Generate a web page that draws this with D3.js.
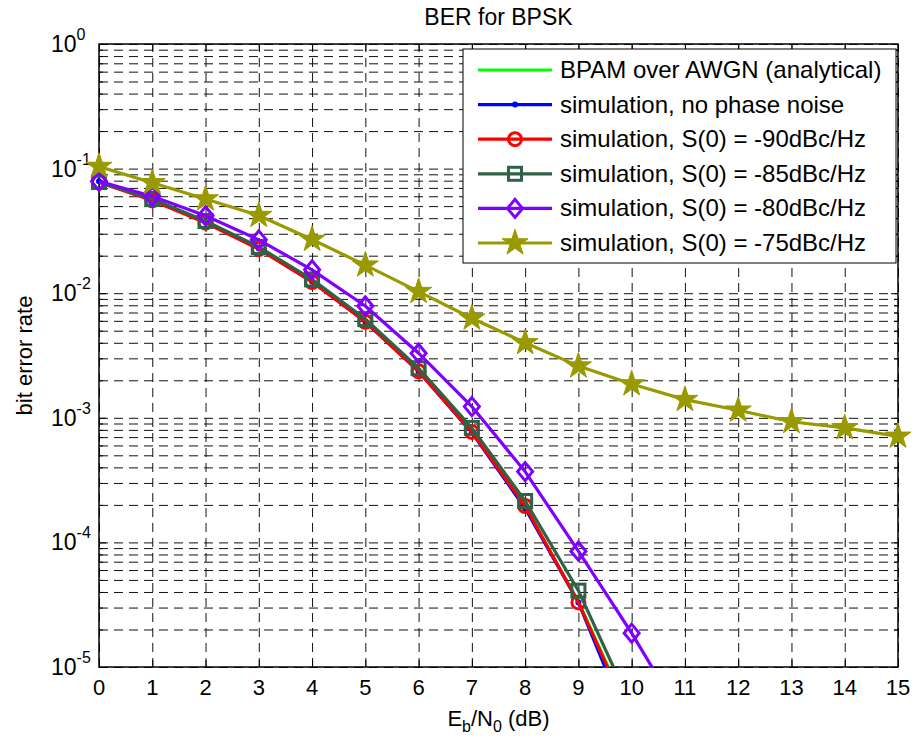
<!DOCTYPE html>
<html lang="en">
<head>
    <meta charset="UTF-8">
    <title>BER for BPSK</title>
    <script src="https://cdn.jsdelivr.net/npm/d3@7"></script>
    <style>
        body { margin: 0; background: #fff; }
        text { font-family: Arial, "Liberation Sans", sans-serif; fill: #000; }
    </style>
</head>
<body>
<script>
    // Eb/N0 points (dB)
    var ebn0 = [0, 1, 2, 3, 4, 5, 6, 7, 8, 9, 10, 11, 12, 13, 14, 15];

    // BER values per curve
    var berAnalytical = [0.0786, 0.0563, 0.0375, 0.0229, 0.0125, 0.00595, 0.00239, 0.000773, 0.000191, 3.36e-5, 3.87e-6];
    var berNoPN = [0.0790, 0.0566, 0.0373, 0.0228, 0.0124, 0.0059, 0.00236, 0.00076, 0.000188, 3.3e-5, 3.0e-6];
    var ber90 = [0.0775, 0.0555, 0.0368, 0.0226, 0.0123, 0.0059, 0.00236, 0.00077, 0.000196, 3.3e-5, 3.7e-6];
    var ber85 = [0.0780, 0.0570, 0.0380, 0.0235, 0.0129, 0.0062, 0.0025, 0.00083, 0.000215, 4.1e-5, 4.8e-6];
    var ber80 = [0.0790, 0.0600, 0.0418, 0.0268, 0.0154, 0.0079, 0.0033, 0.00123, 0.00037, 8.5e-5, 1.87e-5, 3.6e-6];
    var ber75 = [0.104, 0.077, 0.057, 0.042, 0.027, 0.0168, 0.0103, 0.0063, 0.0040, 0.0026, 0.00187, 0.0014, 0.00115, 0.00093, 0.00083, 0.00071];

    var legendLabels = ["BPAM over AWGN (analytical)", "simulation, no phase noise",
        "simulation, S(0) = -90dBc/Hz", "simulation, S(0) = -85dBc/Hz",
        "simulation, S(0) = -80dBc/Hz", "simulation, S(0) = -75dBc/Hz"];
    var xTicks = [0, 1, 2, 3, 4, 5, 6, 7, 8, 9, 10, 11, 12, 13, 14, 15];
    var yDecades = [1e-5, 1e-4, 1e-3, 1e-2, 1e-1, 1];

    var series = [
        {vals: berAnalytical, color: "#00ff00", marker: "none"},
        {vals: berNoPN, color: "#0000ff", marker: "dot"},
        {vals: ber90, color: "#ff0000", marker: "circle"},
        {vals: ber85, color: "#2f6246", marker: "square"},
        {vals: ber80, color: "#8000ff", marker: "diamond"},
        {vals: ber75, color: "#999900", marker: "star"}
    ];

    var width = 915, height = 744;
    // plot box (window.top is reserved, so use p* names)
    var pLeft = 99, pRight = 898, pTop = 44, pBottom = 667;

    var svg = d3.select("body").append("svg")
            .attr("width", width)
            .attr("height", height);

    var x = d3.scaleLinear().domain([0, 15]).range([pLeft, pRight]);
    var y = d3.scaleLog().domain([1e-5, 1]).range([pBottom, pTop]);

    // minor values for log grid
    var yMinor = [];
    yDecades.slice(0, 5).forEach(function (d) {
        for (var k = 2; k <= 9; k++) yMinor.push(d * k);
    });

    svg.append("rect").attr("x", pLeft).attr("y", pTop)
            .attr("width", pRight - pLeft).attr("height", pBottom - pTop)
            .style("fill", "#fff");

    // grid lines
    var grid = svg.append("g").attr("class", "grid");
    grid.append("g").attr("transform", "translate(0," + pBottom + ")")
            .call(d3.axisBottom(x).tickValues(xTicks).tickSize(-(pBottom - pTop)).tickFormat(""));
    grid.append("g").attr("transform", "translate(" + pLeft + ",0)")
            .call(d3.axisLeft(y).tickValues(yDecades.concat(yMinor)).tickSize(-(pRight - pLeft)).tickFormat(""));
    grid.selectAll(".domain").remove();
    grid.selectAll("line")
            .style("stroke", "#111")
            .style("stroke-width", 1)
            .style("stroke-dasharray", "9,6");

    // axes (ticks inside, box)
    function styleAxis(g) {
        g.selectAll(".domain").remove();
        g.selectAll("line").style("stroke", "#000");
    }
    svg.append("g").attr("transform", "translate(0," + pBottom + ")")
            .call(d3.axisBottom(x).tickValues(xTicks).tickSize(-7).tickFormat("")).call(styleAxis);
    svg.append("g").attr("transform", "translate(0," + pTop + ")")
            .call(d3.axisTop(x).tickValues(xTicks).tickSize(-7).tickFormat("")).call(styleAxis);
    svg.append("g").attr("transform", "translate(" + pLeft + ",0)")
            .call(d3.axisLeft(y).tickValues(yDecades).tickSize(-7).tickFormat("")).call(styleAxis);
    svg.append("g").attr("transform", "translate(" + pLeft + ",0)")
            .call(d3.axisLeft(y).tickValues(yMinor).tickSize(-4).tickFormat("")).call(styleAxis);
    svg.append("g").attr("transform", "translate(" + pRight + ",0)")
            .call(d3.axisRight(y).tickValues(yDecades).tickSize(-7).tickFormat("")).call(styleAxis);
    svg.append("g").attr("transform", "translate(" + pRight + ",0)")
            .call(d3.axisRight(y).tickValues(yMinor).tickSize(-4).tickFormat("")).call(styleAxis);

    svg.append("rect").attr("x", pLeft).attr("y", pTop)
            .attr("width", pRight - pLeft).attr("height", pBottom - pTop)
            .style("fill", "none").style("stroke", "#000").style("stroke-width", 1.5);

    // tick labels
    svg.append("g").selectAll("text").data(xTicks).enter().append("text")
            .attr("x", function (d) { return x(d); })
            .attr("y", 695)
            .attr("text-anchor", "middle")
            .style("font-size", "22px")
            .text(function (d) { return d; });

    var yl = svg.append("g").selectAll("text").data(yDecades).enter().append("text")
            .attr("x", 51)
            .attr("y", function (d) { return y(d) + 8; })
            .style("font-size", "23px");
    yl.append("tspan").text("10");
    yl.append("tspan").attr("dy", -12).style("font-size", "16px").text(function (d) {
        var e = Math.round(Math.log10(d));
        return e === 0 ? "0" : "-" + Math.abs(e);
    });

    // title and axis labels
    svg.append("text").attr("x", (pLeft + pRight) / 2).attr("y", 25)
            .attr("text-anchor", "middle").style("font-size", "23px").text("BER for BPSK");

    svg.append("text").attr("transform", "translate(32," + ((pTop + pBottom) / 2) + ") rotate(-90)")
            .attr("text-anchor", "middle").style("font-size", "22px").text("bit error rate");

    var xl = svg.append("text").attr("x", (pLeft + pRight) / 2).attr("y", 726)
            .attr("text-anchor", "middle").style("font-size", "22px");
    xl.append("tspan").text("E");
    xl.append("tspan").attr("dy", 6).style("font-size", "16px").text("b");
    xl.append("tspan").attr("dy", -6).text("/N");
    xl.append("tspan").attr("dy", 6).style("font-size", "16px").text("0");
    xl.append("tspan").attr("dy", -6).text(" (dB)");

    // curves
    svg.append("clipPath").attr("id", "clip").append("rect")
            .attr("x", pLeft).attr("y", pTop).attr("width", pRight - pLeft).attr("height", pBottom - pTop);

    var line = d3.line()
            .x(function (d, i) { return x(ebn0[i]); })
            .y(function (d) { return y(d); });

    function drawMarker(g, type, color) {
        if (type === "dot") {
            g.append("circle").attr("r", 3).style("fill", color);
        } else if (type === "circle") {
            g.append("circle").attr("r", 6.5).style("fill", "none")
                    .style("stroke", color).style("stroke-width", 3);
        } else if (type === "square") {
            g.append("rect").attr("x", -6.5).attr("y", -6.5).attr("width", 13).attr("height", 13)
                    .style("fill", "none").style("stroke", color).style("stroke-width", 3);
        } else if (type === "diamond") {
            g.append("path").attr("d", "M0,-9L7.5,0L0,9L-7.5,0Z")
                    .style("fill", "none").style("stroke", color).style("stroke-width", 3);
        } else if (type === "star") {
            g.append("path").attr("d", d3.symbol().type(d3.symbolStar).size(210)())
                    .style("fill", color).style("stroke", color).style("stroke-width", 1);
        }
    }

    series.forEach(function (s) {
        svg.append("path").datum(s.vals)
                .attr("d", line)
                .attr("clip-path", "url(#clip)")
                .style("fill", "none")
                .style("stroke", s.color)
                .style("stroke-width", 3.2);
        s.vals.forEach(function (v, i) {
            if (v < 1e-5) return;
            var g = svg.append("g").attr("transform", "translate(" + x(ebn0[i]) + "," + y(v) + ")");
            drawMarker(g, s.marker, s.color);
        });
    });

    // legend
    var lg = svg.append("g");
    lg.append("rect").attr("x", 463).attr("y", 49).attr("width", 433).attr("height", 214)
            .style("fill", "#fff").style("stroke", "#000").style("stroke-width", 1);
    series.forEach(function (s, i) {
        var ry = 70 + i * 34.6;
        lg.append("line").attr("x1", 478).attr("x2", 552).attr("y1", ry).attr("y2", ry)
                .style("stroke", s.color).style("stroke-width", 3.2);
        drawMarker(lg.append("g").attr("transform", "translate(515," + ry + ")"), s.marker, s.color);
        lg.append("text").attr("x", 560).attr("y", ry + 8).style("font-size", "24px").text(legendLabels[i]);
    });
</script>
</body>
</html>
